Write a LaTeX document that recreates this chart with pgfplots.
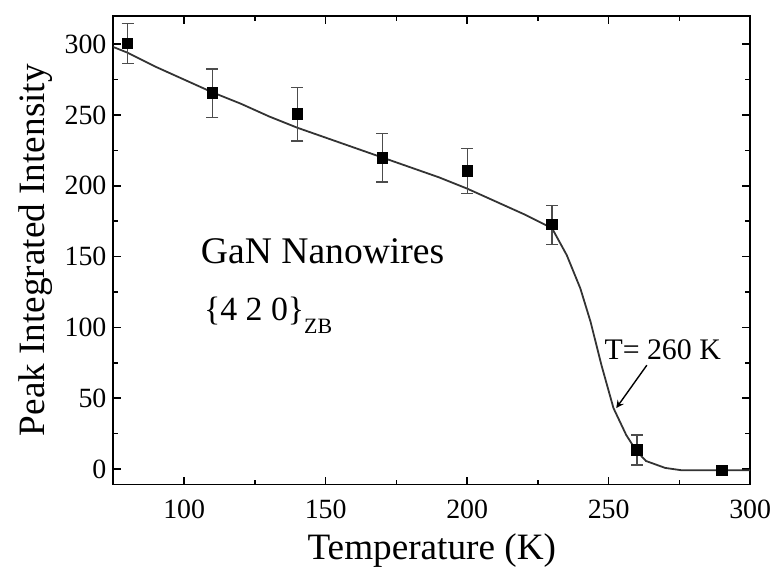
\documentclass[border=0pt]{standalone}
\usepackage{fontspec}
\setmainfont{Liberation Serif}
\usepackage{pgfplots}
\pgfplotsset{compat=1.18}
\begin{document}
\begin{tikzpicture}
\path[use as bounding box] (-57pt,-44.5pt) rectangle (332.5pt,243.5pt);
\begin{axis}[
    scale only axis,
    width=320pt, height=235.5pt,
    at={(0,0)}, anchor=south west,
    xmin=75, xmax=300, ymin=-11, ymax=320,
    xtick={100,150,...,300}, ytick={0,50,...,300},
    minor x tick num=1, minor y tick num=1,
    tick align=inside,
    major tick length=4pt, minor tick length=2.5pt,
    every tick/.style={black, line width=0.8pt},
    axis line style={line width=1pt},
    /pgf/number format/assume math mode=true,
    tick label style={font=\fontsize{14}{16}\selectfont},
    xticklabel style={yshift=-4pt},
    xlabel={Temperature (K)},
    ylabel={Peak Integrated Intensity},
    every axis x label/.style={at={(rel axis cs:0.5,0)}, yshift=-33pt, anchor=center,
        font=\fontsize{18.7}{22}\selectfont},
    every axis y label/.style={at={(rel axis cs:0,0.5)}, xshift=-39pt, rotate=90, anchor=center,
        font=\fontsize{18.7}{22}\selectfont},
]
% fitted curve
\addplot[line width=0.9pt, color=black!80, no marks] coordinates {
    (75,298) (80,294) (90,284) (100,275) (110,266) (120,258) (130,249)
    (140,241) (150,234) (160,227) (170,220) (180,213) (190,206) (200,198)
    (210,189) (220,180) (230,170) (235.2,151) (240,127.5)
    (243.6,104) (247.5,73) (251.7,43) (256.2,24) (259.7,13) (263.2,5.6)
    (270,0.7) (276,-1) (300,-1)
};
% measured points
\addplot[only marks, mark=square*, mark size=2.6pt, color=black,
    error bars/.cd, y dir=both, y explicit,
    error bar style={color=gray!60!black, line width=0.6pt},
    error mark options={rotate=90, mark size=3pt, color=gray!60!black, line width=0.6pt}]
    table[x=T, y=I, y error=err] {
T   I      err
80  300.5  14
110 265.5  17
140 250.7  19
170 219.7  17
200 210.6  16
230 172.5  13.7
260 13.4   10.6
290 -1     0
};
\node[anchor=west, inner sep=0pt, font=\fontsize{18.9}{22}\selectfont]
    at (axis cs:105.8,154) {GaN Nanowires};
\node[anchor=west, inner sep=0pt, font=\fontsize{17}{20}\selectfont]
    at (axis cs:106.9,108.5) {\{4 2 0\}\raisebox{-7pt}{\fontsize{11}{12}\selectfont ZB}};
\node[inner sep=0pt, font=\fontsize{15}{18}\selectfont]
    at (axis cs:269.1,83.9) {T= 260 K};
\draw[-stealth, line width=0.7pt] (axis cs:263.5,73.3) -- (axis cs:252.7,43);
\end{axis}
\end{tikzpicture}
\end{document}
